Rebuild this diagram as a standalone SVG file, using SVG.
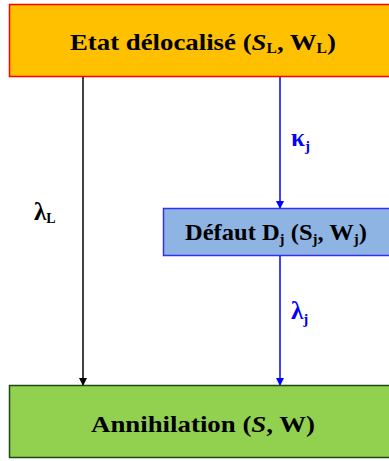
<svg xmlns="http://www.w3.org/2000/svg" width="389" height="461" viewBox="0 0 389 461">
<defs>
<style>
.t{font-family:"Liberation Serif","DejaVu Serif",serif;font-weight:bold;fill:#000;text-anchor:middle}
.lab{font-family:"Liberation Serif","DejaVu Serif",serif;font-weight:bold}
</style>
<marker id="ab" markerWidth="8" markerHeight="8" refX="7" refY="4" orient="auto" markerUnits="userSpaceOnUse"><path d="M0,0 L8,4 L0,8 z" fill="#000"/></marker>
<marker id="au" markerWidth="8" markerHeight="8" refX="7" refY="4" orient="auto" markerUnits="userSpaceOnUse"><path d="M0,0 L8,4 L0,8 z" fill="#0000FF"/></marker>
</defs>
<rect width="389" height="461" fill="#fff"/>
<g id="connectors">
<line x1="83" y1="77" x2="83" y2="385" stroke="#000" stroke-width="1.5" marker-end="url(#ab)"/>
<line x1="280" y1="77" x2="280" y2="208" stroke="#0000FF" stroke-width="1.5" marker-end="url(#au)"/>
<line x1="280" y1="256" x2="280" y2="385" stroke="#0000FF" stroke-width="1.5" marker-end="url(#au)"/>
<text class="lab" x="34" y="220" font-size="25" fill="#000">λ<tspan font-size="14" dy="3">L</tspan></text>
<text class="lab" x="291" y="146" font-size="25" fill="#0000FF">κ<tspan font-size="15" dy="5">j</tspan></text>
<text class="lab" x="291" y="319" font-size="25" fill="#0000FF">λ<tspan font-size="15" dy="5">j</tspan></text>
</g>
<g id="etat">
<rect x="9.5" y="4.5" width="385" height="72" fill="#FFC000" stroke="#FF0000" stroke-width="1.5"/>
<text class="t" x="203" y="50" font-size="24" textLength="266" lengthAdjust="spacingAndGlyphs">Etat délocalisé (<tspan font-style="italic">S</tspan><tspan font-size="14" dy="3">L</tspan><tspan dy="-3">, W</tspan><tspan font-size="14" dy="3">L</tspan><tspan dy="-3">)</tspan></text>
</g>
<g id="defaut">
<rect x="163.5" y="208.5" width="230" height="47" fill="#8EB4E3" stroke="#3333EE" stroke-width="1.5"/>
<text class="t" x="276" y="240" font-size="23" textLength="182" lengthAdjust="spacingAndGlyphs">Défaut D<tspan font-size="14" dy="4">j</tspan><tspan dy="-4"> (S</tspan><tspan font-size="14" dy="4">j</tspan><tspan dy="-4">, W</tspan><tspan font-size="14" dy="4">j</tspan><tspan dy="-4">)</tspan></text>
</g>
<g id="annihilation">
<rect x="9.5" y="385.5" width="385" height="72" fill="#92D050" stroke="#1E4A12" stroke-width="1.5"/>
<text class="t" x="203" y="432" font-size="24" textLength="224" lengthAdjust="spacingAndGlyphs">Annihilation (<tspan font-style="italic">S</tspan>, W)</text>
</g>
</svg>
